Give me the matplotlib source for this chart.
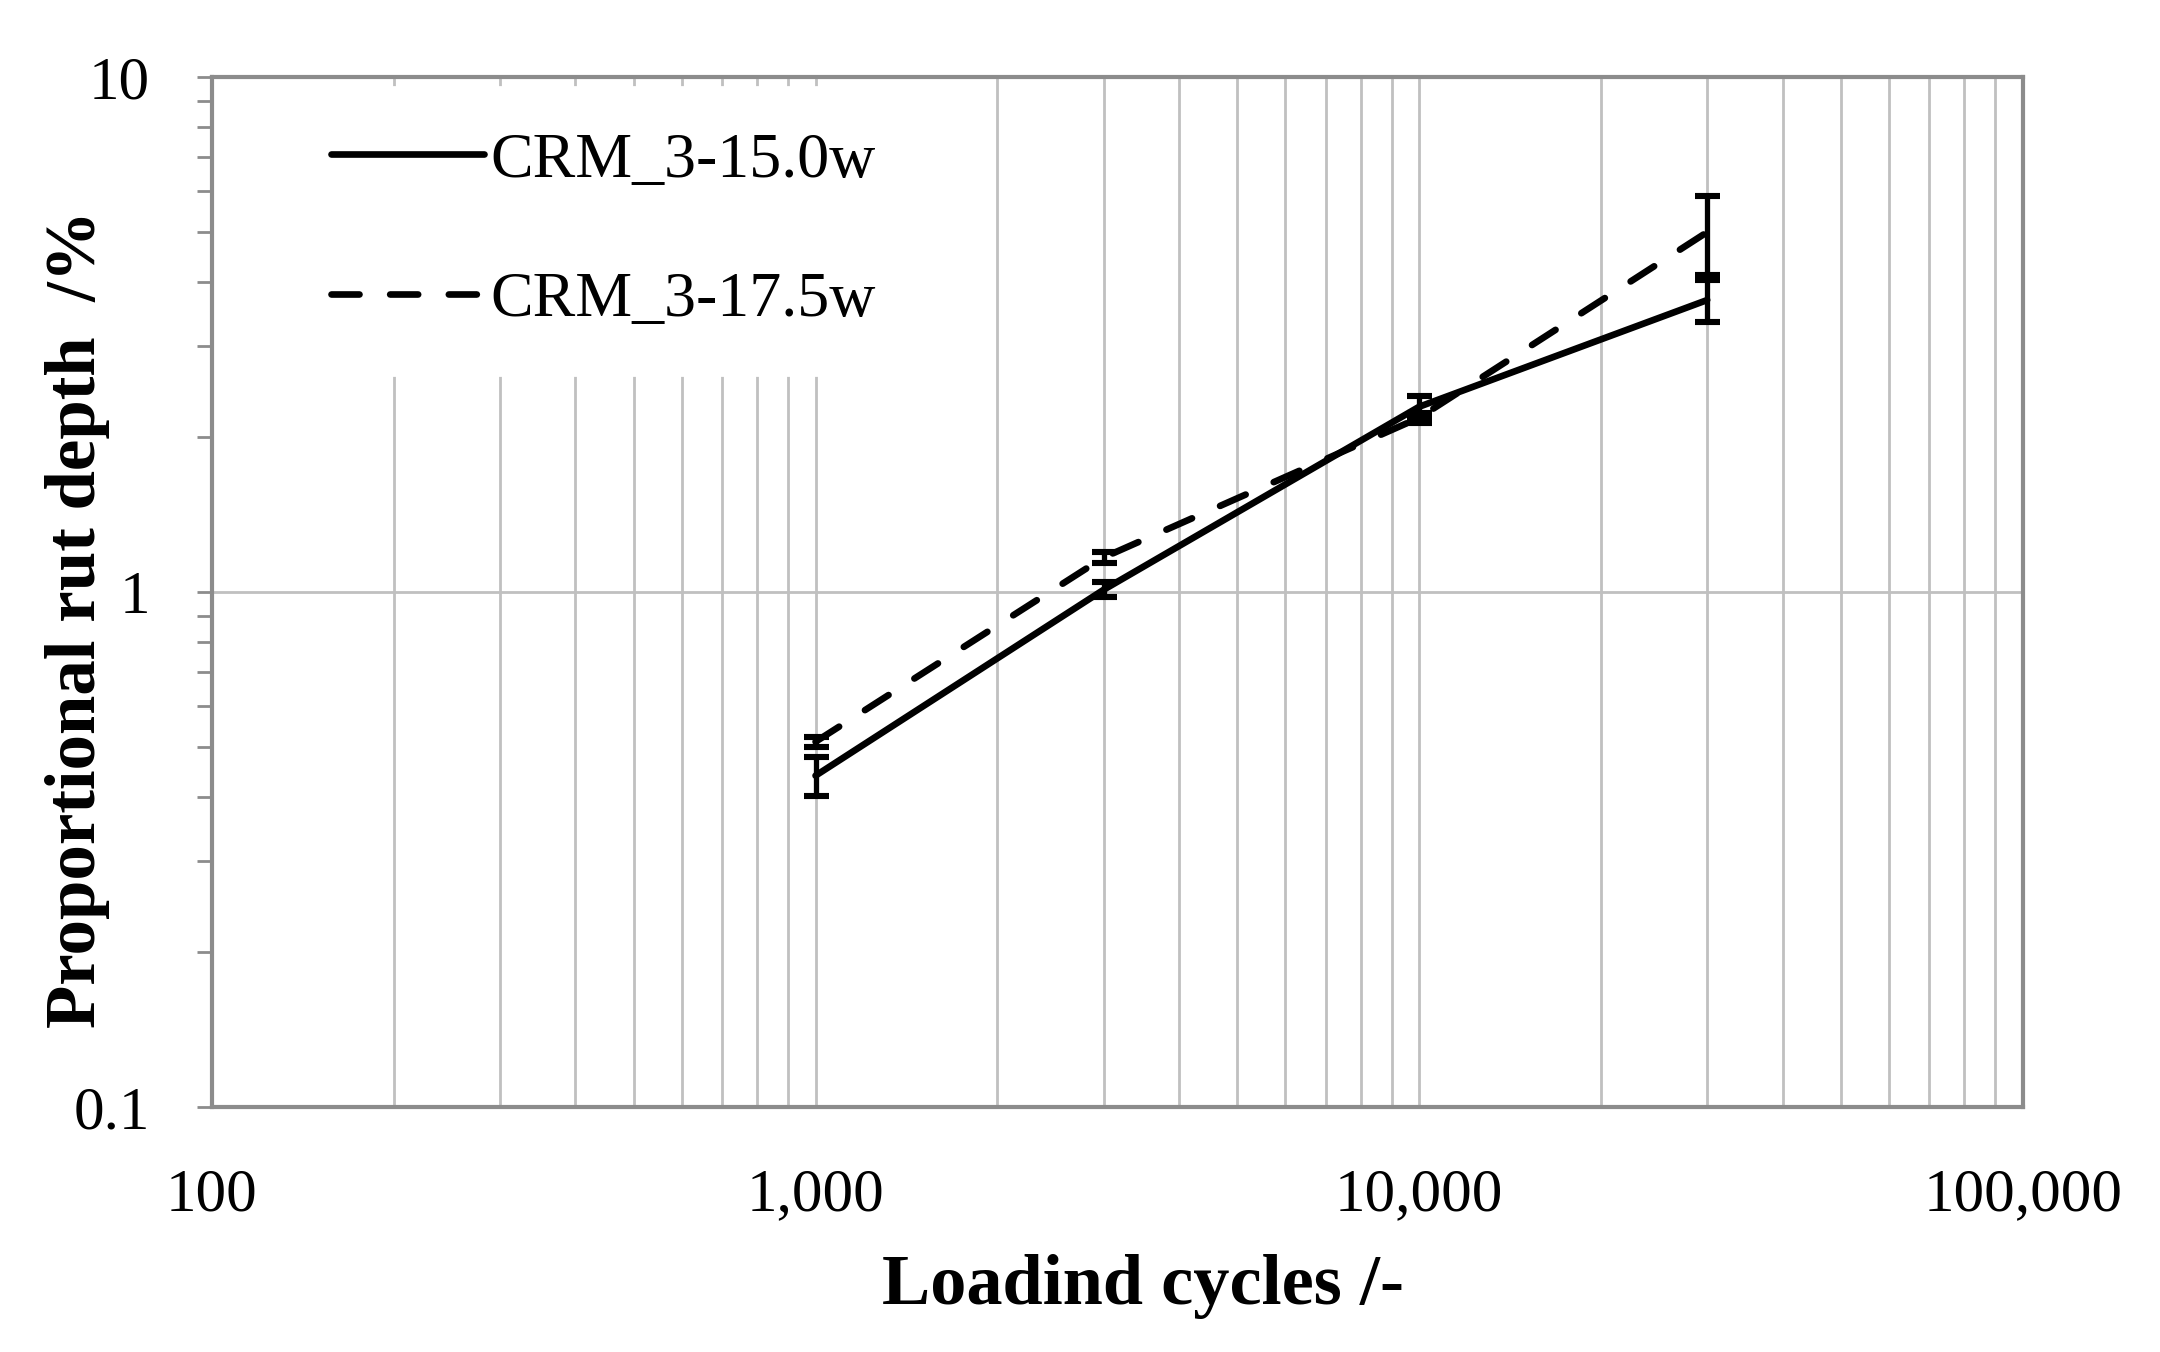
import numpy as np
import matplotlib
matplotlib.use("Agg")
import matplotlib.pyplot as plt
from matplotlib.ticker import FixedLocator, FixedFormatter, LogLocator, NullFormatter

plt.rcParams['font.family'] = ['Liberation Serif', 'DejaVu Serif']

# data
cycles = [1000, 3000, 10000, 30000]
rut_150 = [0.44, 1.01, 2.29, 3.69]
err_150 = [0.038, 0.034, 0.11, 0.35]
rut_175 = [0.512, 1.167, 2.18, 5.0]
err_175 = [0.012, 0.03, 0.05, 0.87]
labels = ['CRM_3-15.0w', 'CRM_3-17.5w']

x_ticks = [100, 1000, 10000, 100000]
x_ticklabels = ['100', '1,000', '10,000', '100,000']
y_ticks = [0.1, 1, 10]
y_ticklabels = ['0.1', '1', '10']

fig = plt.figure(figsize=(10.8, 6.76), dpi=200)
ax = fig.add_axes([0.0981, 0.1812, 0.8384, 0.7618])
ax.set_xscale('log')
ax.set_yscale('log')
ax.set_xlim(100, 100000)
ax.set_ylim(0.1, 10)

grid_col = '#c0c0c0'
spine_col = '#8c8c8c'

# grid: x major + minor, y only major
ax.xaxis.set_major_locator(FixedLocator(x_ticks))
ax.xaxis.set_major_formatter(FixedFormatter(x_ticklabels))
ax.xaxis.set_minor_locator(LogLocator(base=10, subs=np.arange(2, 10)))
ax.xaxis.set_minor_formatter(NullFormatter())
ax.yaxis.set_major_locator(FixedLocator(y_ticks))
ax.yaxis.set_major_formatter(FixedFormatter(y_ticklabels))
ax.yaxis.set_minor_locator(LogLocator(base=10, subs=np.arange(2, 10)))
ax.yaxis.set_minor_formatter(NullFormatter())

ax.grid(True, which='both', axis='x', color=grid_col, lw=1.0)
ax.grid(True, which='major', axis='y', color=grid_col, lw=1.0)
ax.set_axisbelow(True)

for s in ax.spines.values():
    s.set_color(spine_col)
    s.set_linewidth(1.5)

ax.tick_params(axis='x', which='both', length=0, pad=22, labelsize=22)
ax.tick_params(axis='y', which='both', direction='out', length=5.4, width=1.0,
               color=spine_col, pad=17, labelsize=22)

# lines
l1, = ax.plot(cycles, rut_150, color='k', lw=2.4, solid_capstyle='round', zorder=3)
l2, = ax.plot(cycles, rut_175, color='k', lw=2.4, ls=(0, (4.2, 4.6)),
              dash_capstyle='round', zorder=3)
ax.errorbar(cycles, rut_150, yerr=err_150, fmt='none', ecolor='k',
            elinewidth=1.9, capsize=4.5, capthick=2.2, zorder=4)
ax.errorbar(cycles, rut_175, yerr=err_175, fmt='none', ecolor='k',
            elinewidth=1.9, capsize=4.5, capthick=2.2, zorder=4)

leg = ax.legend([l1, l2], labels, loc='upper left',
                bbox_to_anchor=(0.041, 0.99, 0.38, 0.0), mode='expand',
                borderaxespad=0, borderpad=0.7, frameon=True, fancybox=False,
                framealpha=1, edgecolor='white', facecolor='white',
                fontsize=23, handlelength=2.4, handletextpad=0.1,
                labelspacing=1.26)
leg.set_zorder(2.5)

ax.set_xlabel('Loadind cycles /-', fontsize=26, fontweight='bold')
ax.xaxis.set_label_coords(0.514, -0.143)
ax.set_ylabel('Proportional rut depth  /%', fontsize=25.5, fontweight='bold')
ax.yaxis.set_label_coords(-0.056, 0.474)

fig.savefig('out.png', dpi=200)
